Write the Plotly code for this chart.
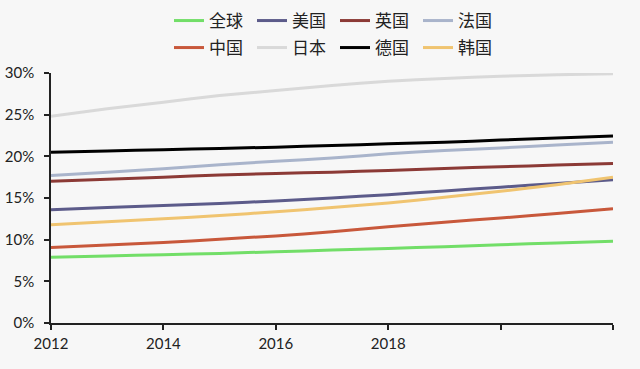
import plotly.graph_objects as go

years = list(range(2012, 2023))

global_ = [7.9, 8.05, 8.2, 8.35, 8.55, 8.75, 8.95, 9.15, 9.4, 9.6, 9.8]
usa = [13.6, 13.85, 14.1, 14.35, 14.65, 15.0, 15.4, 15.85, 16.3, 16.75, 17.2]
uk = [17.0, 17.25, 17.5, 17.75, 17.95, 18.1, 18.3, 18.55, 18.75, 18.95, 19.15]
france = [17.7, 18.1, 18.5, 19.0, 19.4, 19.8, 20.3, 20.7, 21.0, 21.35, 21.7]
china = [9.05, 9.35, 9.65, 10.05, 10.45, 10.95, 11.55, 12.1, 12.6, 13.15, 13.7]
japan = [24.8, 25.7, 26.5, 27.3, 27.9, 28.5, 29.0, 29.35, 29.6, 29.8, 29.9]
germany = [20.5, 20.65, 20.8, 20.95, 21.1, 21.3, 21.5, 21.7, 21.95, 22.2, 22.45]
korea = [11.8, 12.15, 12.5, 12.9, 13.35, 13.85, 14.4, 15.1, 15.8, 16.6, 17.5]

names = ["全球", "美国", "英国", "法国", "中国", "日本", "德国", "韩国"]
series = [global_, usa, uk, france, china, japan, germany, korea]
colors = ["#72de68", "#5c5b8a", "#8c3a36", "#a9b4cb", "#c8583b", "#d9d9d9", "#000000", "#f0c470"]

x_tickvals = [2012, 2014, 2016, 2018, 2020, 2022]
x_ticktext = ["2012", "2014", "2016", "2018", "", ""]
y_tickvals = [0, 5, 10, 15, 20, 25, 30]
y_ticktext = ["0%", "5%", "10%", "15%", "20%", "25%", "30%"]

fig = go.Figure()
for i, (n, s, c) in enumerate(zip(names, series, colors)):
    fig.add_trace(go.Scatter(
        x=years, y=s, name=n, mode="lines",
        line=dict(color=c, width=3, shape="spline", smoothing=0.6),
        legend="legend" if i < 4 else "legend2",
    ))

bg = "#f7f7f7"
legend_common = dict(
    orientation="h", x=0.5 + 3 / 562, xanchor="center", yref="container", yanchor="middle",
    bgcolor="rgba(0,0,0,0)", entrywidth=38, itemwidth=30,
    font=dict(family="Noto Sans CJK SC", size=17, color="#222222"),
)
fig.update_layout(
    width=640, height=369,
    paper_bgcolor=bg, plot_bgcolor=bg,
    margin=dict(l=51, r=27, t=73, b=46, autoexpand=False),
    font=dict(family="Lato", size=15, color="#222222"),
    legend=dict(y=1 - 21 / 369, **legend_common),
    legend2=dict(y=1 - 48 / 369, **legend_common),
    xaxis=dict(
        range=[2012, 2022], tickvals=x_tickvals, ticktext=x_ticktext, automargin=False,
        showgrid=False, zeroline=False, showline=True, linecolor="#222222", linewidth=1.5,
        ticks="outside", ticklen=5, tickwidth=1.5, tickcolor="#222222", ticklabelstandoff=1,
    ),
    yaxis=dict(
        range=[0, 30], tickvals=y_tickvals, ticktext=y_ticktext, automargin=False,
        showgrid=False, zeroline=False, showline=True, linecolor="#222222", linewidth=1.5,
        ticks="outside", ticklen=5, tickwidth=1.5, tickcolor="#222222", ticklabelstandoff=7,
    ),
)

fig.write_html(
    "out.html",
    config={"displayModeBar": False},
    post_script="document.body.style.margin='0';document.body.style.background='#f7f7f7';",
)
